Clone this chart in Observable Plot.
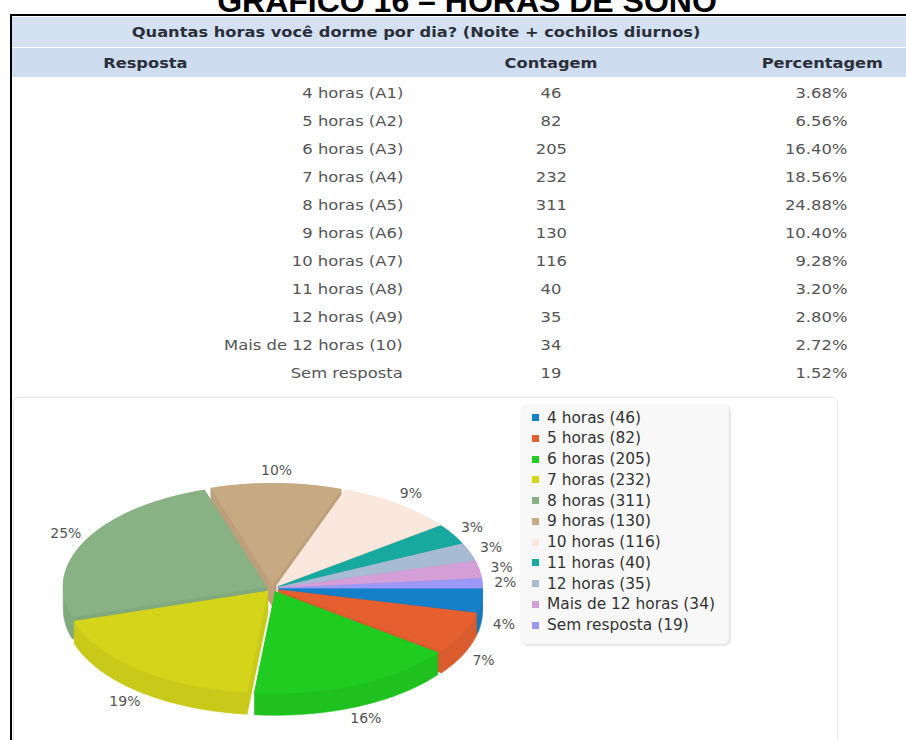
<!DOCTYPE html>
<html><head><meta charset="utf-8">
<script src="https://cdn.jsdelivr.net/npm/d3@7"></script>
<script src="https://cdn.jsdelivr.net/npm/@observablehq/plot@0.6"></script>
<style>
body{margin:0;width:906px;height:740px;overflow:hidden;background:#fff;position:relative;font-family:"DejaVu Sans",sans-serif;}
.abs{position:absolute;}
#title{left:0;width:934px;text-align:center;top:-15px;font:bold 32px/32px "Liberation Sans",Arial,sans-serif;color:#000;white-space:nowrap;}
.frameTop{left:10px;top:14px;width:896px;height:2px;background:#000;}
.frameLeft{left:10px;top:14px;width:2px;height:730px;background:#000;}
.hdr1{left:12px;top:17px;width:894px;height:30px;background:#d4e1f2;}
.hdr2{left:12px;top:48px;width:894px;height:29px;background:#cedcef;}
.cell{line-height:16px;height:16px;white-space:nowrap;}
.cell span{display:inline-block;}
.bold{font-weight:bold;color:#2c2f3a;font-size:14px;}
.data{color:#555;font-size:14px;}
#panel{left:13px;top:397px;width:823px;height:360px;border:1px solid #e7e7e7;border-radius:5px;box-shadow:0 0 2px rgba(0,0,0,0.04);}
#legend{left:521px;top:405px;width:208px;height:239px;background:#f8f8f8;border-radius:5px;box-shadow:1px 1px 3px rgba(0,0,0,0.18);}
.lg{position:absolute;left:26px;font-size:15.4px;line-height:18px;color:#333;white-space:nowrap;}
.sw{position:absolute;left:11px;width:7px;height:7px;}
</style></head>
<body>
<script>
// ---- data ----
const tituloGrafico = "GRÁFICO 16 – HORAS DE SONO";
const pergunta = "Quantas horas você dorme por dia? (Noite + cochilos diurnos)";
const colunas = ["Resposta", "Contagem", "Percentagem"];
const respostas = ["4 horas (A1)", "5 horas (A2)", "6 horas (A3)", "7 horas (A4)", "8 horas (A5)", "9 horas (A6)", "10 horas (A7)", "11 horas (A8)", "12 horas (A9)", "Mais de 12 horas (10)", "Sem resposta"];
const contagens = [46, 82, 205, 232, 311, 130, 116, 40, 35, 34, 19];
const percentagens = [3.68, 6.56, 16.40, 18.56, 24.88, 10.40, 9.28, 3.20, 2.80, 2.72, 1.52];
const legendaNomes = ["4 horas", "5 horas", "6 horas", "7 horas", "8 horas", "9 horas", "10 horas", "11 horas", "12 horas", "Mais de 12 horas", "Sem resposta"];
const cores = ["#1380c9", "#e6602f", "#21cc21", "#d4d41b", "#88b283", "#c7a982", "#fae7dd", "#17a89f", "#a7bbd3", "#d49fd7", "#9b98f6"];

// ---- layout helpers ----
const body = document.body;
function div(cls, html) { const d = document.createElement("div"); d.className = "abs " + cls; if (html != null) d.innerHTML = html; body.appendChild(d); return d; }
function place(text, x, y, align, cls, sx) {
  const d = div("cell " + cls);
  d.style.top = (y - 8) + "px";
  const s = document.createElement("span");
  s.textContent = text;
  s.style.transform = `scaleX(${sx})`;
  if (align === "end") { d.style.right = (906 - x) + "px"; d.style.textAlign = "right"; s.style.transformOrigin = "100% 50%"; }
  else if (align === "middle") { d.style.left = (x - 400) + "px"; d.style.width = "800px"; d.style.textAlign = "center"; s.style.transformOrigin = "50% 50%"; }
  else { d.style.left = x + "px"; s.style.transformOrigin = "0 50%"; }
  d.appendChild(s);
}

const t = div("", tituloGrafico); t.id = "title";
div("frameTop"); div("frameLeft");
div("hdr1"); div("hdr2");
const SB = 1.16, SD = 1.17;
place(pergunta, 416, 32, "middle", "bold", SB);
place(colunas[0], 145, 63, "middle", "bold", SB);
place(colunas[1], 551, 63, "middle", "bold", SB);
place(colunas[2], 822, 63, "middle", "bold", SB);
respostas.forEach((r, i) => {
  const y = 93 + 28 * i;
  place(r, 403, y, "end", "data", SD);
  place(String(contagens[i]), 551, y, "middle", "data", SD);
  place(percentagens[i].toFixed(2) + "%", 847, y, "end", "data", SD);
});

const panel = div(""); panel.id = "panel";

// ---- 3D pie geometry (derived from the counts) ----
const W = 906, H = 343, CX = 272, CY = 191, R = 203;
const TILT = 0.5, THICK = 22 / R, EXPL = 0.035;
const total = d3.sum(contagens);
let cum = 0;
const slices = contagens.map((v, i) => {
  const a0 = cum / total * 2 * Math.PI; cum += v;
  const a1 = cum / total * 2 * Math.PI;
  const mid = (a0 + a1) / 2;
  const ox = EXPL * Math.cos(mid), oy = EXPL * Math.sin(mid) * TILT;
  const n = Math.max(2, Math.ceil((a1 - a0) / 0.02));
  const top = [[ox, oy]];
  for (let k = 0; k <= n; k++) {
    const a = a0 + (a1 - a0) * k / n;
    top.push([ox + Math.cos(a), oy + TILT * Math.sin(a)]);
  }
  const bottom = top.map(([x, y]) => [x, y + THICK]);
  const hull = d3.polygonHull(top.concat(bottom));
  return {i, v, a0, a1, mid, top, hull, color: cores[i]};
});
const order = slices.slice().sort((a, b) => Math.sin(a.mid) - Math.sin(b.mid));
const marks = [];
for (const s of order) {
  const dark = d3.color(s.color).darker(0.15).formatHex();
  const hullData = s.hull.concat([s.hull[0]]).map(([x, y]) => ({x, y}));
  marks.push(Plot.line(hullData, {x: "x", y: "y", fill: dark, stroke: dark, strokeWidth: 0.6}));
  const topData = s.top.concat([s.top[0]]).map(([x, y]) => ({x, y}));
  marks.push(Plot.line(topData, {x: "x", y: "y", fill: s.color, stroke: s.color, strokeWidth: 0.6}));
}
const LX = 233 / R, LY = 118 / R;
const labels = slices.map(s => ({
  x: LX * Math.cos(s.mid),
  y: LY * Math.sin(s.mid) + (Math.sin(s.mid) > 0 ? THICK : 0),
  text: Math.round(percentagens[s.i]) + "%"
}));
marks.push(Plot.text(labels, {x: "x", y: "y", text: "text", fill: "#555", fontSize: 14, fontFamily: "DejaVu Sans"}));

const plot = Plot.plot({
  width: W, height: H,
  marginTop: 0, marginRight: 0, marginBottom: 0, marginLeft: 0,
  x: {domain: [-CX / R, (W - CX) / R], range: [0, W], axis: null},
  y: {domain: [-CY / R, (H - CY) / R], range: [0, H], axis: null},
  style: {background: "transparent", overflow: "visible"},
  marks
});
plot.style.position = "absolute"; plot.style.left = "0px"; plot.style.top = "397px";
body.appendChild(plot);

// ---- legend ----
const lg = div(""); lg.id = "legend";
legendaNomes.forEach((n, i) => {
  const yc = 12.5 + 20.75 * i;
  const sw = document.createElement("div"); sw.className = "sw";
  sw.style.top = (yc - 3.5) + "px"; sw.style.background = cores[i];
  lg.appendChild(sw);
  const tx = document.createElement("div"); tx.className = "lg";
  tx.style.top = (yc - 9) + "px"; tx.textContent = `${n} (${contagens[i]})`;
  lg.appendChild(tx);
});
</script>
</body></html>
